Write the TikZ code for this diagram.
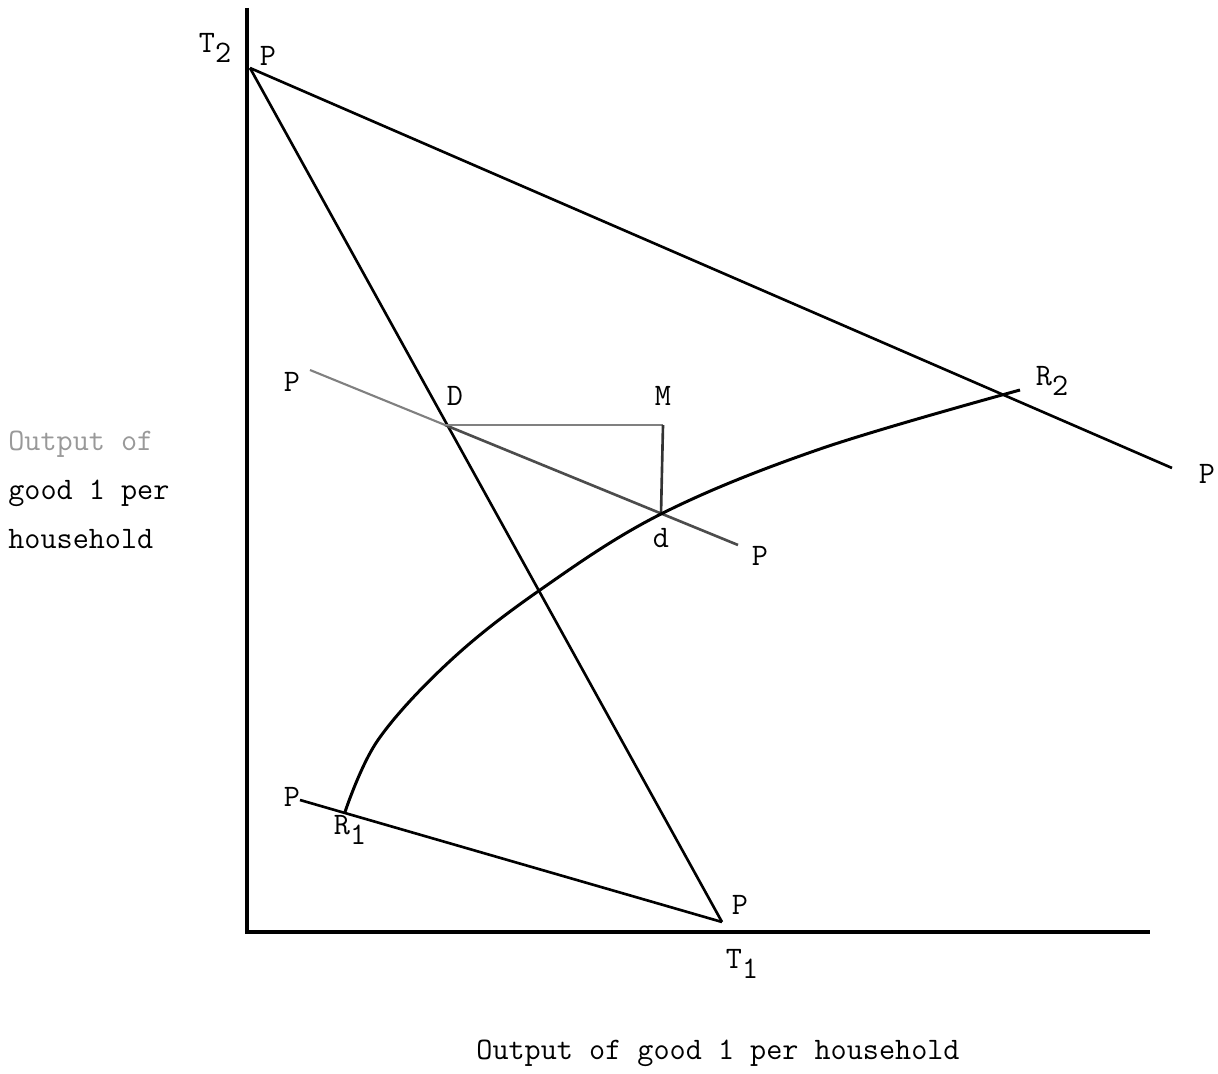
\documentclass[tikz,border=0pt]{standalone}
\newcommand{\lowsub}[1]{\raisebox{-0.75ex}{#1}}
\begin{document}
\begin{tikzpicture}[x=0.02cm,y=-0.02cm,
  lbl/.style={font=\ttfamily\fontsize{17.8}{28}\selectfont, inner sep=0pt},
  axis/.style={line width=2pt},
  mainline/.style={line width=1.5pt},
  faint/.style={line width=1.2pt, black!50}]
  \useasboundingbox (0,0) rectangle (1218,1074);
  % axes
  \coordinate (ytop) at (247,8);
  \coordinate (O) at (247,932);
  \coordinate (xend) at (1150,932);
  \draw[axis] (ytop) -- (O) -- (xend);
  % corner points of the lines
  \coordinate (T2) at (250,68);
  \coordinate (T1) at (722,922);
  \coordinate (Pr) at (1172,468);
  \coordinate (Pa) at (310,370);
  \coordinate (Pb) at (738,545);
  \coordinate (Pc) at (300,800);
  \coordinate (D) at (445,425);
  \coordinate (M) at (663,425);
  \coordinate (d) at (661,514);
  \coordinate (R1) at (345,812);
  \coordinate (R2) at (1020,390);
  % price lines
  \draw[mainline] (T2) -- (Pr);
  \draw[mainline] (T2) -- (T1);
  \draw[mainline] (Pc) -- (T1);
  \draw[faint] (Pa) -- (D);
  \draw[mainline,black!70] (D) -- (Pb);
  % D--M--d
  \draw[faint] (D) -- (M);
  \draw[mainline,black!80] (M) -- (d);
  % curve R1 to R2
  \draw[line width=1.7pt] plot[smooth,tension=0.6] coordinates {(R1) (378,740) (450,661) (540,590) (d) (820,449) (R2)};
  % labels
  \node[lbl] (lT2) at (215,48) {T\lowsub{2}};
  \node[lbl] (lP1) at (268,56) {P};
  \node[lbl] (lP2) at (1207,474) {P};
  \node[lbl] (lP3) at (740,905) {P};
  \node[lbl] (lT1) at (742,964) {T\lowsub{1}};
  \node[lbl] (lP4) at (292,382) {P};
  \node[lbl] (lP5) at (760,556) {P};
  \node[lbl] (lD) at (455,396) {D};
  \node[lbl] (lM) at (663,396) {M};
  \node[lbl] (ld) at (661,538) {d};
  \node[lbl] (lR2) at (1052,381) {R\lowsub{2}};
  \node[lbl] (lR1) at (350,830) {R\lowsub{1}};
  \node[lbl] (lP6) at (292,797) {P};
  \node[lbl, anchor=west, align=left] (ylab) at (8,490)
    {{\color{black!40}Output of}\\good 1 per\\household};
  \node[lbl] (xlab) at (718,1053) {Output of good 1 per household};
\end{tikzpicture}
\end{document}
